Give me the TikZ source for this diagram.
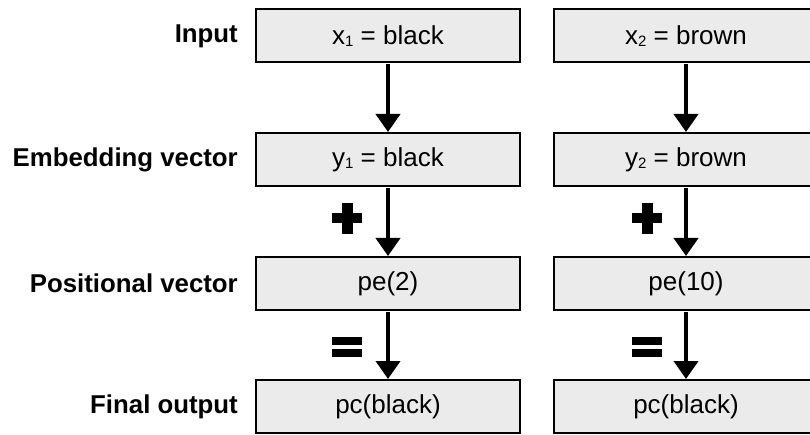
\documentclass[tikz,border=0pt]{standalone}
\usepackage{fontspec}
\setmainfont{Liberation Sans}
\usetikzlibrary{arrows.meta}

% small lowered digit used as an index
\newcommand{\idx}[1]{\raisebox{-0.1em}{\fontsize{15}{15}\selectfont #1}}

\definecolor{boxgray}{HTML}{EBEBEB}
\tikzset{
  cell/.style={draw=black, line width=2pt, fill=boxgray, minimum width=264pt,
    minimum height=53pt, inner sep=0pt, font=\fontsize{26}{31}\selectfont},
  rowlabel/.style={anchor=east, inner sep=0pt, font=\fontsize{25.8}{31}\selectfont\bfseries},
  flow/.style={line width=4pt, -{Triangle[width=24pt,length=18pt]}, shorten <=1pt},
}

\begin{document}
\begin{tikzpicture}[x=1pt,y=-1pt]
\useasboundingbox (0,0) rectangle (810,435);
\clip (0,0) rectangle (810,435);

% row labels
\node[rowlabel] (l1) at (238,36)    {Input};
\node[rowlabel] (l2) at (238,159.5) {Embedding vector};
\node[rowlabel] (l3) at (238,283.5) {Positional vector};
\node[rowlabel] (l4) at (238,406.5) {Final output};

% first token column
\node[cell] (a1) at (388,36)    {x\idx{1} = black};
\node[cell] (a2) at (388,159.5) {y\idx{1} = black};
\node[cell] (a3) at (388,283.5) {pe(2)};
\node[cell] (a4) at (388,406.5) {pc(black)};

% second token column
\node[cell] (b1) at (686,36)    {x\idx{2} = brown};
\node[cell] (b2) at (686,159.5) {y\idx{2} = brown};
\node[cell] (b3) at (686,283.5) {pe(10)};
\node[cell] (b4) at (686,406.5) {pc(black)};

% arrows between stages
\foreach \c in {a,b}{
  \draw[flow] (\c1.south) -- (\c2.north);
  \draw[flow] (\c2.south) -- (\c3.north);
  \draw[flow] (\c3.south) -- (\c4.north);
}

% plus and equals signs
\foreach \x in {347,647}{
  \fill (\x-15,213) rectangle (\x+15,223);
  \fill (\x-5.5,203) rectangle (\x+5.5,234);
  \fill (\x-15,337) rectangle (\x+15,344.5);
  \fill (\x-15,349) rectangle (\x+15,357);
}
\end{tikzpicture}
\end{document}
